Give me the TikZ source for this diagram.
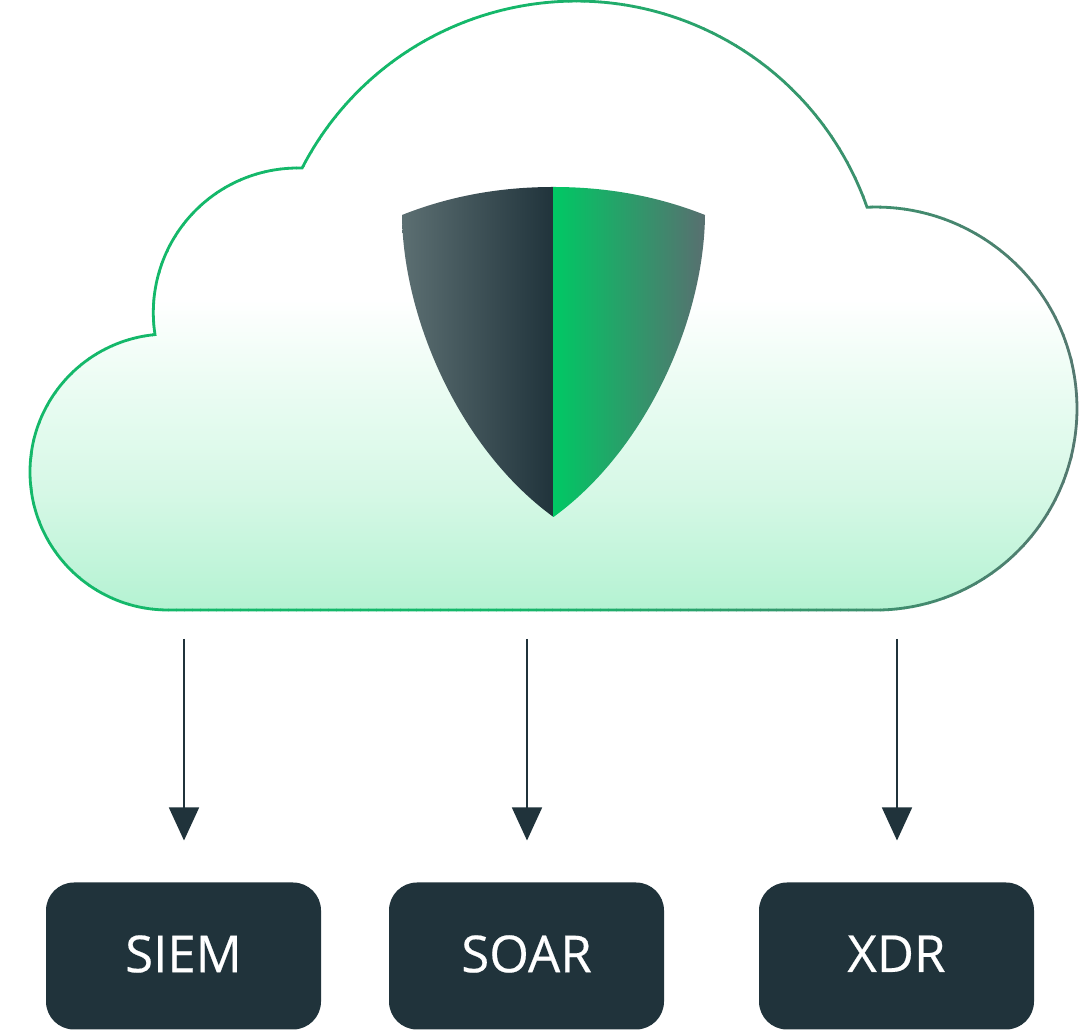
\documentclass[tikz,border=0pt]{standalone}
\usepackage{fontspec}
\setmainfont{Open Sans}[FakeBold=0.4]
\usetikzlibrary{arrows.meta}
\definecolor{ink}{HTML}{20333B}
\definecolor{strokeA}{HTML}{14B86A}
\definecolor{strokeB}{HTML}{557870}
\definecolor{fillA}{HTML}{B4F2D2}
\definecolor{fillB}{HTML}{D6F8E6}
\definecolor{fillC}{HTML}{EBFCF3}
\definecolor{shLeftOut}{HTML}{5C6F72}
\definecolor{shGreen}{HTML}{00C864}
\definecolor{shRightOut}{HTML}{586F70}
\pgfdeclareverticalshading{cloudfill}{100bp}{
  color(0bp)=(fillA);
  color(25bp)=(fillA);
  color(34bp)=(fillB);
  color(42.2bp)=(fillC);
  color(48.8bp)=(white);
  color(100bp)=(white)}
\def\cloudpath{
  (168,420) arc[start angle=270,end angle=95.4,radius=138]
  arc[start angle=188.8,end angle=88.3,radius=144.5]
  arc[start angle=152.7,end angle=19.37,radius=308.4]
  arc[start angle=92.4,end angle=-90,radius=201.5]
  -- cycle}
\newcommand{\lifted}[1]{\raisebox{4.5pt}{#1}}
\tikzset{
  x=1pt,y=1pt,
  outline/.style={line width=2.8pt,line join=miter},
  linkline/.style={draw=ink,line width=1.5pt,-{Triangle[width=30pt,length=33pt]},shorten >=42pt},
  targetbox/.style={fill=ink,text=white,rounded corners=28pt,minimum width=275pt,minimum height=147pt,
    inner sep=0pt,outer sep=0pt,font=\fontsize{51}{60}\selectfont}
}
\begin{document}
\begin{tikzpicture}
\useasboundingbox (0,0) rectangle (1080,1030);
\fill[white] (0,0) rectangle (1080,1030);
% cloud fill
\path[shading=cloudfill] \cloudpath;
% cloud outline, its colour running from left to right
\foreach \sx in {0,8,...,1072}{
  \pgfmathsetmacro{\p}{\sx<500 ? 100 : 100*((1080-\sx)/580)}
  \begin{scope}
    \clip (\sx,-5) rectangle (\sx+8.5,1035);
    \draw[outline,draw=strokeA!\p!strokeB] \cloudpath;
  \end{scope}
}
% shield
\shade[left color=shLeftOut,right color=ink]
  (402,815) .. controls (450,834) and (500,843) .. (553.5,843)
  -- (553.5,513) .. controls (461,580) and (403,710) .. (402,815) -- cycle;
\shade[left color=shGreen,right color=shRightOut]
  (705,815) .. controls (657,834) and (607,843) .. (553.5,843)
  -- (553.5,513) .. controls (646,580) and (704,710) .. (705,815) -- cycle;
% targets
\node[targetbox] (siem) at (183.5,74) {\lifted{SIEM}};
\node[targetbox] (soar) at (526.5,74) {\lifted{SOAR}};
\node[targetbox] (xdr)  at (896.5,74) {\lifted{XDR}};
\coordinate (s1) at (184,391);
\coordinate (s2) at (527,391);
\coordinate (s3) at (897,391);
\draw[linkline] (s1) -- (s1 |- siem.north);
\draw[linkline] (s2) -- (s2 |- soar.north);
\draw[linkline] (s3) -- (s3 |- xdr.north);
\end{tikzpicture}
\end{document}
